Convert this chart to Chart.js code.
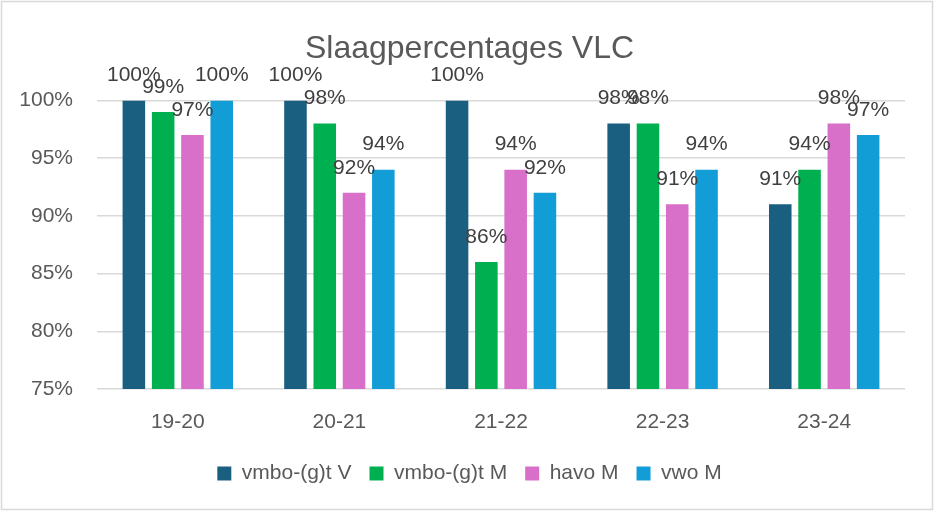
<!DOCTYPE html>
<html>
<head>
<meta charset="utf-8">
<title>Slaagpercentages VLC</title>
<script src="https://cdn.jsdelivr.net/npm/chart.js"></script>
<style>
  html, body { margin: 0; padding: 0; background: #fff; }
  #wrap { width: 934px; height: 511px; position: relative; }
</style>
</head>
<body>
<div id="wrap"><canvas id="chart" width="934" height="511"></canvas></div>
<script>
const years = ['19-20', '20-21', '21-22', '22-23', '23-24'];
const vmboV = [100, 100, 100, 98, 91];
const vmboM = [99, 98, 86, 98, 94];
const havoM = [97, 92, 94, 91, 98];
const vwoM = [100, 94, 92, 94, 97];
const yTicks = [75, 80, 85, 90, 95, 100];

const FONT = "'Liberation Sans', Arial, sans-serif";
const GREY = '#595959';

// labels above each bar, like the Excel data labels
const barLabels = {
  id: 'barLabels',
  afterDatasetsDraw(chart) {
    const ctx = chart.ctx;
    ctx.save();
    ctx.font = '21px ' + FONT;
    ctx.fillStyle = '#404040';
    ctx.textAlign = 'center';
    ctx.textBaseline = 'middle';
    chart.data.datasets.forEach((ds, i) => {
      chart.getDatasetMeta(i).data.forEach((bar, j) => {
        ctx.fillText(ds.data[j] + '%', bar.x, bar.y - 25);
      });
    });
    ctx.restore();
  }
};

// thin grey frame round the whole chart; also let the y labels use the left padding
const frame = {
  id: 'frame',
  afterLayout(chart) {
    chart.scales.y.left = 0;
  },
  beforeDraw(chart) {
    const ctx = chart.ctx;
    ctx.save();
    ctx.strokeStyle = '#d9d9d9';
    ctx.lineWidth = 1.5;
    ctx.strokeRect(1.5, 1.5, chart.width - 3, chart.height - 3);
    ctx.restore();
  }
};

new Chart(document.getElementById('chart'), {
  type: 'bar',
  data: {
    labels: years,
    datasets: [
      { label: 'vmbo-(g)t V', data: vmboV, backgroundColor: '#1a5e80' },
      { label: 'vmbo-(g)t M', data: vmboM, backgroundColor: '#00b050' },
      { label: 'havo M', data: havoM, backgroundColor: '#d86fc9' },
      { label: 'vwo M', data: vwoM, backgroundColor: '#129dd6' }
    ]
  },
  options: {
    responsive: false,
    animation: false,
    categoryPercentage: 0.725,
    barPercentage: 0.77,
    layout: { padding: { left: 34, right: 29, top: 0, bottom: 17 } },
    plugins: {
      title: {
        display: true,
        text: 'Slaagpercentages VLC',
        color: GREY,
        font: { family: FONT, size: 32, weight: 'normal' },
        padding: { top: 30, bottom: 32 }
      },
      legend: {
        position: 'bottom',
        labels: {
          color: GREY,
          font: { family: FONT, size: 21 },
          boxWidth: 14,
          boxHeight: 14,
          padding: 18
        }
      },
      tooltip: { enabled: false }
    },
    scales: {
      x: {
        grid: { display: false },
        border: { display: false },
        ticks: { color: GREY, font: { family: FONT, size: 21 }, padding: 13 },
        afterFit(scale) { scale.height = 56; }
      },
      y: {
        min: 75,
        max: 100,
        afterBuildTicks(scale) { scale.ticks = yTicks.map(v => ({ value: v })); },
        grid: { color: '#d9d9d9', lineWidth: 1.5, drawTicks: false, tickLength: 0 },
        border: { display: false },
        ticks: {
          color: GREY,
          font: { family: FONT, size: 21 },
          padding: 24,
          callback: v => v + '%'
        },
        afterFit(scale) { scale.width = 63; }
      }
    }
  },
  plugins: [barLabels, frame]
});
</script>
</body>
</html>
